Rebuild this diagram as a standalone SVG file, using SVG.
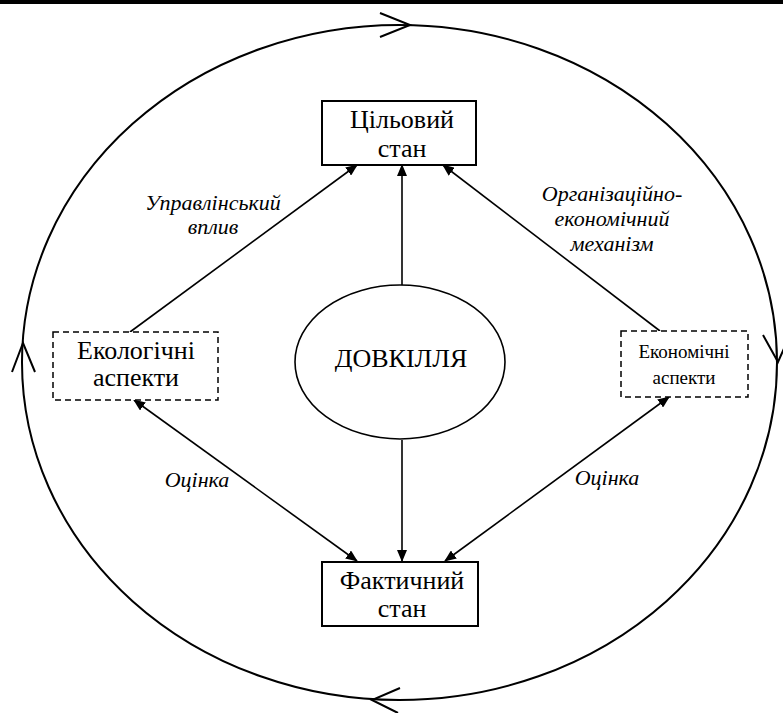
<svg xmlns="http://www.w3.org/2000/svg" width="783" height="713" viewBox="0 0 783 713">
<style>
.t{font-family:"Liberation Serif","Times New Roman",serif;fill:#000;text-anchor:middle}
.lbl{font-family:"Liberation Serif","Times New Roman",serif;font-style:italic;fill:#000;text-anchor:middle;font-size:22px}
.box{fill:#fff;stroke:#000;stroke-width:2}
.dbox{fill:#fff;stroke:#000;stroke-width:1.5;stroke-dasharray:6 4}
.ln{stroke:#000;stroke-width:1.6;fill:none}
.chev{stroke:#000;stroke-width:2;fill:none}
</style>
<defs>
<marker id="ah" markerWidth="12" markerHeight="10" refX="11" refY="5" orient="auto" markerUnits="userSpaceOnUse">
<path d="M0,0 L12,5 L0,10 Z" fill="#000"/>
</marker>
<marker id="as" markerWidth="12" markerHeight="10" refX="1" refY="5" orient="auto" markerUnits="userSpaceOnUse">
<path d="M12,0 L0,5 L12,10 Z" fill="#000"/>
</marker>
</defs>
<rect x="0" y="0" width="783" height="4" fill="#000"/>
<g id="cycle">
<ellipse cx="399.5" cy="362.5" rx="377.5" ry="337.5" fill="none" stroke="#000" stroke-width="2"/>
<path class="chev" d="M380,13 L410,25 L380,37"/>
<path class="chev" d="M12,372 L23,343 L35,372"/>
<path class="chev" d="M763,335 L778,362 L790,335"/>
<path class="chev" d="M400,688 L372,700 L398,713"/>
</g>
<g id="connectors">
<line class="ln" x1="130" y1="332" x2="357" y2="165" marker-end="url(#ah)"/>
<line class="ln" x1="402" y1="285" x2="402" y2="165" marker-end="url(#ah)"/>
<line class="ln" x1="660" y1="331" x2="443" y2="165" marker-end="url(#ah)"/>
<line class="ln" x1="134" y1="400" x2="357" y2="561" marker-start="url(#as)" marker-end="url(#ah)"/>
<line class="ln" x1="402" y1="440" x2="402" y2="561" marker-end="url(#ah)"/>
<line class="ln" x1="669" y1="397" x2="445" y2="561" marker-start="url(#as)" marker-end="url(#ah)"/>
<text class="lbl" x="213" y="210">Управлінський</text>
<text class="lbl" x="213" y="234">вплив</text>
<text class="lbl" x="612" y="201">Організаційно-</text>
<text class="lbl" x="612" y="226">економічний</text>
<text class="lbl" x="612" y="251">механізм</text>
<text class="lbl" x="197" y="487">Оцінка</text>
<text class="lbl" x="607" y="485">Оцінка</text>
</g>
<g id="target">
<rect class="box" x="322" y="101" width="154" height="64"/>
<text class="t" x="402" y="128" font-size="26">Цільовий</text>
<text class="t" x="402" y="157" font-size="26">стан</text>
</g>
<g id="environment">
<ellipse cx="400" cy="362" rx="105" ry="77" fill="#fff" stroke="#000" stroke-width="1.6"/>
<text class="t" x="401" y="367" font-size="26">ДОВКІЛЛЯ</text>
</g>
<g id="ecological">
<rect class="dbox" x="53" y="332" width="165" height="68"/>
<text class="t" x="136" y="359" font-size="26">Екологічні</text>
<text class="t" x="136" y="386" font-size="26">аспекти</text>
</g>
<g id="economic">
<rect class="dbox" x="621" y="331" width="127" height="66"/>
<text class="t" x="684" y="358" font-size="19">Економічні</text>
<text class="t" x="684" y="384" font-size="19">аспекти</text>
</g>
<g id="actual">
<rect class="box" x="322" y="562" width="156" height="64"/>
<text class="t" x="402" y="589" font-size="26">Фактичний</text>
<text class="t" x="402" y="617" font-size="26">стан</text>
</g>
</svg>
